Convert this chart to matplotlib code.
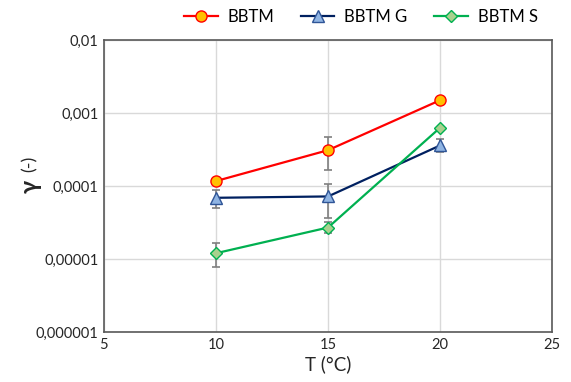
import numpy as np
import matplotlib
matplotlib.use("Agg")
import matplotlib.pyplot as plt

plt.rcParams['font.family'] = ['Lato', 'DejaVu Sans']

temp = [10, 15, 20]

bbtm = [1.17e-4, 3.1e-4, 1.5e-3]
bbtm_lo = [1.17e-4, 1.65e-4, 1.5e-3]
bbtm_hi = [1.17e-4, 4.7e-4, 1.5e-3]

bbtm_g = [6.9e-5, 7.2e-5, 3.6e-4]
bbtm_g_lo = [5.0e-5, 3.7e-5, 2.9e-4]
bbtm_g_hi = [8.9e-5, 1.08e-4, 4.4e-4]

bbtm_s = [1.2e-5, 2.7e-5, 6.3e-4]
bbtm_s_lo = [7.7e-6, 2.3e-5, 6.3e-4]
bbtm_s_hi = [1.66e-5, 3.2e-5, 6.3e-4]

series = [
    ("BBTM", bbtm, bbtm_lo, bbtm_hi, "#FF0000", "o", "#FFC000", "#FF0000", 8),
    ("BBTM G", bbtm_g, bbtm_g_lo, bbtm_g_hi, "#002060", "^", "#8FB4E3", "#2F5597", 8.5),
    ("BBTM S", bbtm_s, bbtm_s_lo, bbtm_s_hi, "#00B050", "D", "#A9D18E", "#00B050", 6.5),
]

fig = plt.figure(figsize=(5.71, 3.82), dpi=100)
ax = fig.add_axes([0.182, 0.131, 0.785, 0.764])

for name, y, lo, hi, lc, mk, fc, ec, ms in series:
    y = np.array(y)
    yerr = [y - np.array(lo), np.array(hi) - y]
    ax.errorbar(temp, y, yerr=yerr, fmt='none', ecolor="#7F7F7F", elinewidth=1.2,
                capsize=3, capthick=1.2, zorder=2)
    ax.plot(temp, y, color=lc, lw=1.6, marker=mk, markersize=ms,
            markerfacecolor=fc, markeredgecolor=ec, markeredgewidth=1, label=name, zorder=3)

ax.set_yscale('log')
ax.set_ylim(1e-6, 1e-2)
ax.set_xlim(5, 25)
ax.set_xticks([5, 10, 15, 20, 25])
yt = [1e-6, 1e-5, 1e-4, 1e-3, 1e-2]
ax.set_yticks(yt)
ax.set_yticklabels(["0,000001", "0,00001", "0,0001", "0,001", "0,01"])
ax.minorticks_off()
ax.grid(True, color="#D9D9D9", lw=1)
ax.set_axisbelow(True)
ax.tick_params(length=0, labelsize=10.5, colors="#262626", pad=4)
for s in ax.spines.values():
    s.set_color("#595959")
    s.set_linewidth(1.2)

ax.set_xlabel("T (°C)", fontsize=13.5, color="#262626", labelpad=3)
ax.text(-0.165, 0.5, "γ", transform=ax.transAxes, rotation=90, fontsize=17,
        fontweight='bold', ha='center', va='center', color="#262626")
ax.text(-0.165, 0.575, "(-)", transform=ax.transAxes, rotation=90, fontsize=13,
        ha='center', va='center', color="#262626")

fig.legend(loc='upper center', bbox_to_anchor=(0.632, 1.015), ncol=3, frameon=False,
           fontsize=12, handlelength=2.0, columnspacing=1.6, handletextpad=0.6)

fig.savefig("out.png", dpi=100)
